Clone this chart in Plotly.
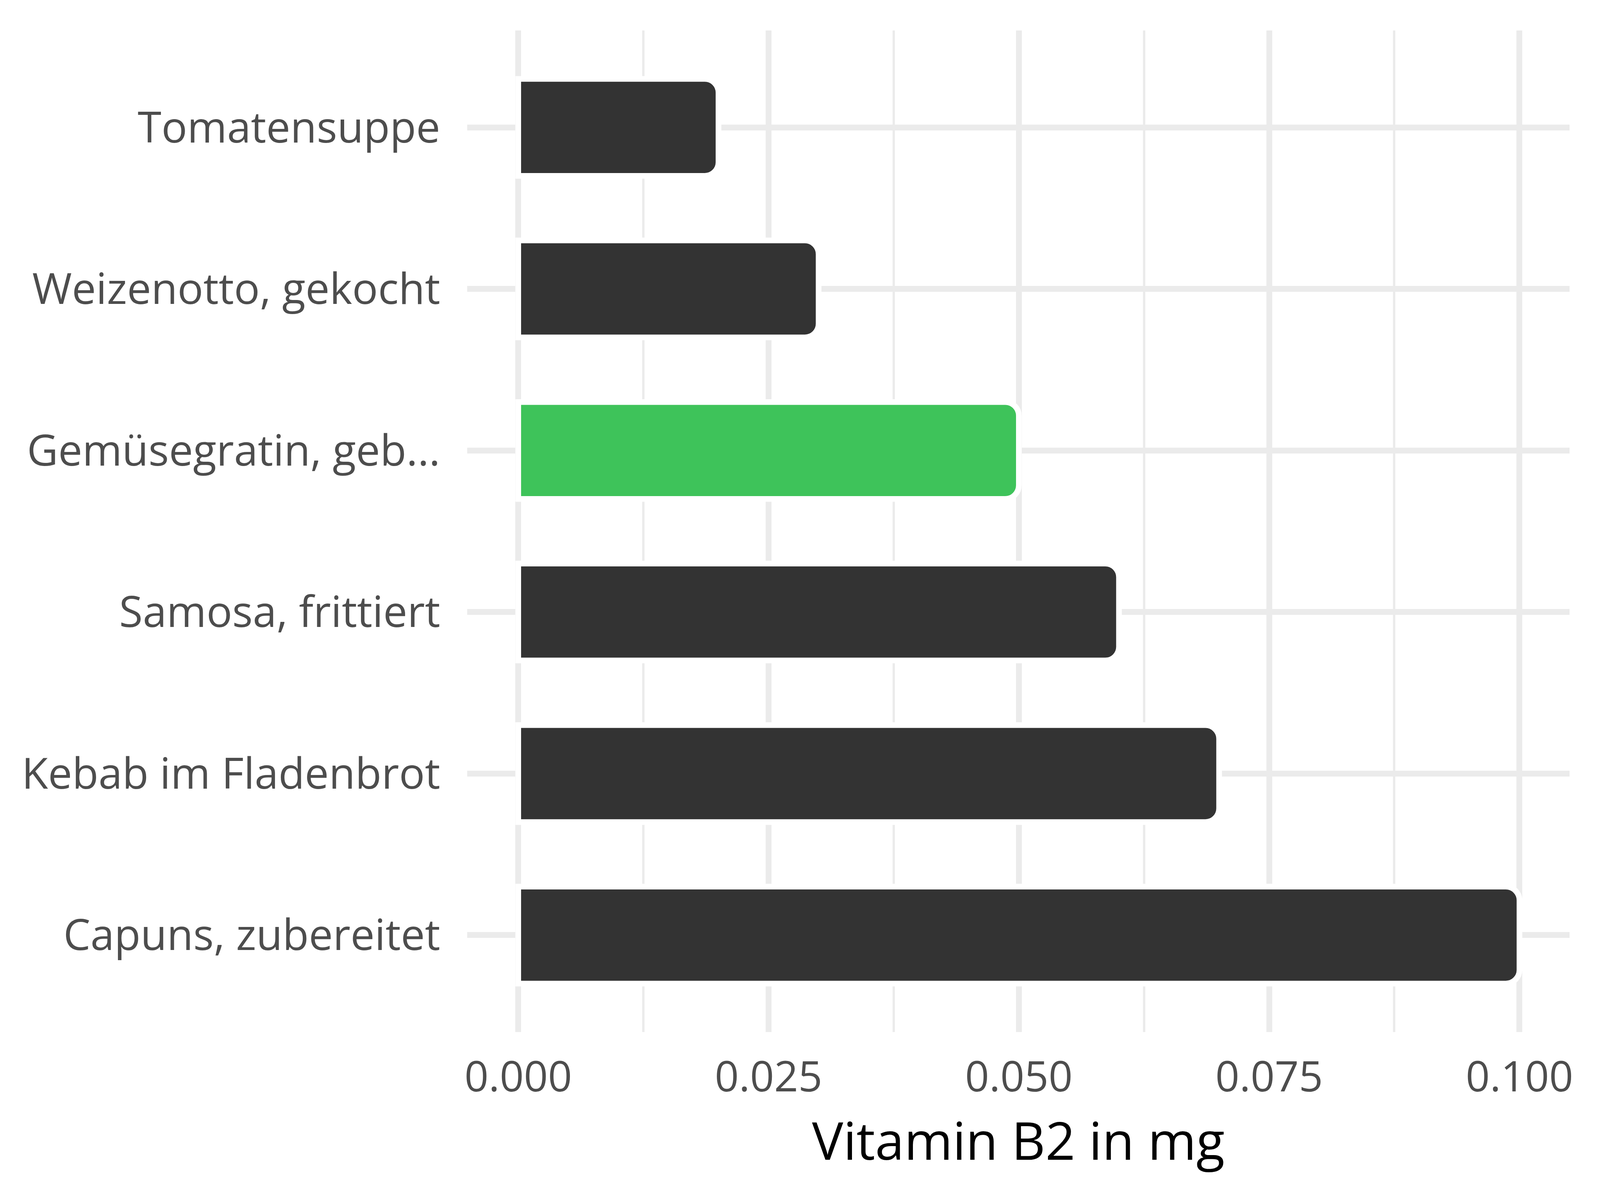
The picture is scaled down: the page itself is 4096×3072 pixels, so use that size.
import plotly.graph_objects as go

# Data (bottom to top)
foods = ["Capuns, zubereitet", "Kebab im Fladenbrot", "Samosa, frittiert",
         "Gemüsegratin, geb...", "Weizenotto, gekocht", "Tomatensuppe"]
values = [0.100, 0.070, 0.060, 0.050, 0.030, 0.020]
highlight = "Gemüsegratin, geb..."
x_ticks = [0.0, 0.025, 0.05, 0.075, 0.1]
x_ticklabels = ["0.000", "0.025", "0.050", "0.075", "0.100"]
x_title = "Vitamin B2 in mg"

DARK = "#333333"
GREEN = "#3EC35A"
GRID = "#EBEBEB"
FONT = "Open Sans"

colors = [GREEN if f == highlight else DARK for f in foods]

fig = go.Figure()
fig.add_trace(go.Bar(
    x=values, y=foods, orientation="h", width=0.6,
    marker=dict(color=colors, line=dict(color="white", width=14.5), cornerradius=35),
    showlegend=False,
))

fig.update_layout(
    width=4096, height=3072,
    margin=dict(l=1188, r=86, t=70, b=438),
    paper_bgcolor="white", plot_bgcolor="white",
    font=dict(family=FONT, color="#4D4D4D", size=110),
    bargap=0.4,
)
fig.update_xaxes(
    range=[-0.0051, 0.105],
    tickvals=x_ticks, ticktext=x_ticklabels,
    showgrid=True, gridcolor=GRID, gridwidth=14.5,
    minor=dict(dtick=0.0125, tick0=0, showgrid=True, gridcolor=GRID, gridwidth=6),
    zeroline=False, showline=False, ticks="",
    tickfont=dict(family=FONT, color="#4D4D4D", size=108),
    ticklabelstandoff=43,
    title=dict(text=x_title, font=dict(family=FONT, color="black", size=134), standoff=20),
)
fig.update_yaxes(
    categoryorder="array", categoryarray=foods,
    range=[-0.6, 5.6],
    showgrid=True, gridcolor=GRID, gridwidth=14.5,
    zeroline=False, showline=False, ticks="",
    tickfont=dict(family=FONT, color="#4D4D4D", size=110),
    ticklabelstandoff=68,
)

fig.write_html("out.html")
